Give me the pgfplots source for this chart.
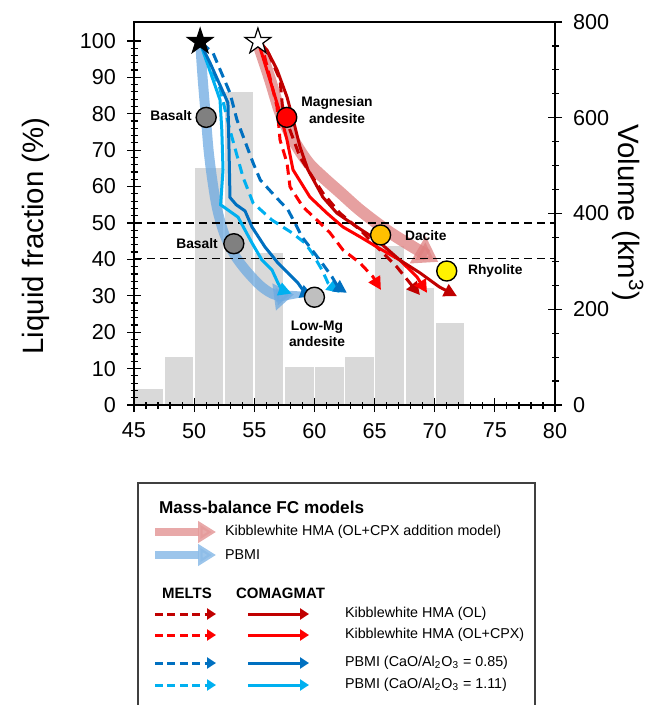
\documentclass[border=0pt]{standalone}
\usepackage{fontspec}
\setmainfont{Liberation Sans}
\usepackage{pgfplots}
\pgfplotsset{compat=1.18}
\usetikzlibrary{arrows.meta}
\definecolor{dred}{RGB}{192,0,0}
\definecolor{bred}{RGB}{255,0,0}
\definecolor{dblue}{RGB}{0,112,192}
\definecolor{lblue}{RGB}{0,176,240}
\definecolor{pinkc}{RGB}{222,128,128}
\definecolor{pblue}{RGB}{110,170,225}
\definecolor{bargray}{RGB}{217,217,217}
\definecolor{boxgray}{RGB}{64,64,64}
\pgfdeclareplotmark{fstar}{%
  \pgfpathmoveto{\pgfpointpolar{90}{\pgfplotmarksize}}%
  \pgfpathlineto{\pgfpointpolar{126}{0.382\pgfplotmarksize}}%
  \pgfpathlineto{\pgfpointpolar{162}{\pgfplotmarksize}}%
  \pgfpathlineto{\pgfpointpolar{198}{0.382\pgfplotmarksize}}%
  \pgfpathlineto{\pgfpointpolar{234}{\pgfplotmarksize}}%
  \pgfpathlineto{\pgfpointpolar{270}{0.382\pgfplotmarksize}}%
  \pgfpathlineto{\pgfpointpolar{306}{\pgfplotmarksize}}%
  \pgfpathlineto{\pgfpointpolar{342}{0.382\pgfplotmarksize}}%
  \pgfpathlineto{\pgfpointpolar{18}{\pgfplotmarksize}}%
  \pgfpathlineto{\pgfpointpolar{54}{0.382\pgfplotmarksize}}%
  \pgfpathclose
  \pgfusepathqfillstroke}
\newcommand{\tickfont}{\fontsize{10.8}{12}\selectfont}
\newcommand{\labfont}{\fontsize{14.7}{16}\selectfont}
\newcommand{\annfont}{\fontsize{6.9}{8.2}\selectfont\bfseries}
\newcommand{\legfont}{\fontsize{7.15}{8.5}\selectfont}
\begin{document}
\begin{tikzpicture}
\pgfplotsset{
  common/.style={
    at={(67pt,-202.5pt)}, anchor=south west, scale only axis,
    width=210.5pt, height=191.5pt, xmin=45, xmax=80,
    /pgf/number format/assume math mode=true,
    ticklabel style={font=\tickfont},
    tick style={black, line width=0.6pt},
    tick align=center, major tick length=7pt, minor tick length=3.5pt,
    axis line style={black, line width=0.75pt},
    clip=false,
  }
}
% Volume axis (histogram)
\begin{axis}[common, ymin=0, ymax=800, hide x axis, axis y line*=right,
  ytick={0,200,400,600,800}, minor y tick num=3,
  yticklabel style={xshift=2pt}]
\addplot[ybar interval, fill=bargray, draw=white, line width=0.9pt] coordinates {
 (45,36) (47.5,103) (50,497) (52.5,656) (55,319) (57.5,81) (60,81) (62.5,103) (65,334) (67.5,246) (70,173) (72.5,0)};
\end{axis}
% Liquid fraction axis
\begin{axis}[common, ymin=0, ymax=105.2,
  xtick={45,50,...,80}, minor x tick num=4,
  ytick={0,10,...,100}, minor y tick num=4,
  xtick pos=bottom, ytick pos=left,
  yticklabel style={xshift=-2pt}, xticklabel style={yshift=-2pt}]
% thick mass-balance arrows
\addplot[smooth, pinkc, opacity=0.75, line width=6pt, -{Triangle[length=12pt,width=15pt]}] coordinates {
 (55.3,99.5) (56.3,89.5) (57.2,80) (58.3,72.5) (59.5,66.5) (60.8,62.3) (62.2,58.2) (63.8,53.5) (66.0,48.0) (68.0,43.8) (70.3,39.3)};
\addplot[smooth, pblue, opacity=0.75, line width=5pt, -{Triangle[length=10pt,width=13pt]}] coordinates {
 (50.5,99.5) (50.7,90) (50.95,80) (51.2,70) (51.5,62) (51.9,54) (52.5,47) (53.3,41.5) (54.3,37) (55.6,32.5) (56.8,30.2) (58.3,30.4)};
% dashed reference lines
\addplot[black, line width=0.7pt, dash pattern=on 4pt off 2.5pt] coordinates {(45,50) (80,50)};
\addplot[black, line width=0.7pt, dash pattern=on 4pt off 2.5pt] coordinates {(45,40.3) (80,40.3)};
% MELTS (dashed)
\addplot[lblue, line width=1.5pt, dash pattern=on 5pt off 3pt, -{Triangle[length=6.5pt,width=6.5pt]}] coordinates {
 (50.5,99.5) (52.1,87.5) (52.98,75.5) (54.06,62.6) (54.9,55.5) (56.47,50.8) (58.13,47.3) (59.21,44.5) (59.8,41.8) (60.63,37.1) (61.13,33.5) (62.1,30.8)};
\addplot[dblue, line width=1.5pt, dash pattern=on 5pt off 3pt, -{Triangle[length=6.5pt,width=6.5pt]}] coordinates {
 (50.6,99.5) (51.57,96.7) (52.98,85.7) (53.56,78.3) (54.9,66.5) (55.5,61.8) (56.8,57.1) (57.8,53.6) (58.38,50.0) (58.96,46.2) (59.8,42.6) (60.63,39.0) (61.46,35.2) (61.96,32.4) (62.7,30.8)};
\addplot[bred, line width=1.5pt, dash pattern=on 5pt off 3pt, -{Triangle[length=6.5pt,width=6.5pt]}] coordinates {
 (55.3,100) (55.72,97.5) (56.3,90) (56.89,81.9) (57.14,72.8) (57.72,66.5) (57.97,59.9) (59.05,54.4) (60.21,50.8) (61.29,47.3) (62.37,42.6) (63.79,39.0) (64.87,35.2) (65.53,31.6)};
\addplot[dred, line width=1.5pt, dash pattern=on 5pt off 3pt, -{Triangle[length=6.5pt,width=6.5pt]}] coordinates {
 (55.3,100) (56.06,97.5) (57.14,89.3) (57.39,80.2) (57.97,75.5) (58.8,68.1) (59.63,63.7) (60.71,58.2) (62.12,52.7) (63.79,48.1) (65.45,42.6) (66.86,37.9) (67.94,33.5) (68.77,30.2)};
% COMAGMAT (solid)
\addplot[lblue, line width=1.5pt, -{Triangle[length=6.5pt,width=6.5pt]}] coordinates {
 (50.5,99.5) (52.15,83.8) (52.3,75.5) (52.4,64.6) (52.2,55) (53.65,51.6) (54.81,44.5) (55.64,39.8) (56.47,37.1) (56.97,33.5) (57.3,31.6) (58.1,30.6)};
\addplot[dblue, line width=1.5pt, -{Triangle[length=6.5pt,width=6.5pt]}] coordinates {
 (50.5,99.5) (51.32,94) (52.81,83) (52.9,70) (52.98,57) (53.5,55) (54.23,53.3) (54.81,48.9) (55.89,43.4) (56.97,39.0) (57.80,36.3) (58.63,33.5) (59.21,30.8) (59.9,29.9)};
\addplot[bred, line width=1.5pt, -{Triangle[length=6.5pt,width=6.5pt]}] coordinates {
 (55.3,100) (56.3,89.3) (57.14,80.2) (57.72,72.8) (58.22,64.6) (59.63,57.1) (61.04,52.7) (62.37,48.9) (63.79,46.2) (65.2,43.4) (67.1,39.8) (68.52,35.2) (69.36,30.8)};
\addplot[dred, line width=1.5pt, -{Triangle[length=6.5pt,width=6.5pt]}] coordinates {
 (55.3,100) (56.06,97.5) (56.9,92) (57.72,84.6) (58.38,76.4) (58.8,70.9) (59.46,64.6) (60.7,57.1) (61.87,52.7) (63.54,48.9) (65.2,45.3) (67.1,39.8) (68.77,36.3) (70.4,32.4) (71.85,29.9)};
% composition circles
\addplot[only marks, mark=*, mark size=5pt, mark options={fill=gray, draw=black, line width=0.7pt}] coordinates {(51.0,79) (53.3,44.3)};
\addplot[only marks, mark=*, mark size=5pt, mark options={fill=bred, draw=black, line width=0.7pt}] coordinates {(57.7,79)};
\addplot[only marks, mark=*, mark size=5pt, mark options={fill=gray!50, draw=black, line width=0.7pt}] coordinates {(60.0,29.6)};
\addplot[only marks, mark=*, mark size=5pt, mark options={fill={rgb,255:red,255;green,192;blue,0}, draw=black, line width=0.7pt}] coordinates {(65.5,46.7)};
\addplot[only marks, mark=*, mark size=5pt, mark options={fill=yellow, draw=black, line width=0.7pt}] coordinates {(71.0,36.8)};
% stars
\addplot[only marks, mark=fstar, mark size=6.8pt, mark options={fill=black, draw=black, line width=0.5pt}] coordinates {(50.5,99.8)};
\addplot[only marks, mark=fstar, mark size=6.8pt, mark options={fill=white, draw=black, line width=0.6pt}] coordinates {(55.3,99.8)};
\end{axis}
\begin{scope}[x=0.5pt, y=-0.5pt]
% axis titles
\node[rotate=90, font=\labfont] at (36,236) {Liquid fraction (\%)};
\node[rotate=-90, font=\labfont] at (628,213) {Volume (km\textsuperscript{3})};
% annotations
\node[font=\annfont] at (171,116) {Basalt};
\node[font=\annfont, align=center] at (337,110) {Magnesian\\andesite};
\node[font=\annfont] at (197,244) {Basalt};
\node[font=\annfont, align=center] at (317,334) {Low-Mg\\andesite};
\node[font=\annfont, anchor=west] at (398,236) {Dacite};
\node[font=\annfont, anchor=west] at (461,271) {Rhyolite};
% legend
\draw[boxgray, line width=0.9pt] (138,760) -- (138,483) -- (535,483) -- (535,760);
\node[anchor=west, font=\fontsize{8.58}{10}\selectfont\bfseries] at (152,507) {Mass-balance FC models};
\draw[pinkc!80!white, opacity=0.85, line width=4pt, -{Triangle[length=9pt,width=10.5pt]}] (155,532) -- (216,532);
\node[anchor=west, font=\legfont] at (218,532) {Kibblewhite HMA (OL+CPX addition model)};
\draw[pblue!80!white, opacity=0.85, line width=4pt, -{Triangle[length=9pt,width=10.5pt]}] (155,555) -- (216,555);
\node[anchor=west, font=\legfont] at (218,555) {PBMI};
\node[anchor=west, font=\fontsize{7.5}{9}\selectfont\bfseries] at (155,593) {MELTS};
\node[anchor=west, font=\fontsize{7.5}{9}\selectfont\bfseries] at (229,593) {COMAGMAT};
\foreach \yy/\cc/\tt in {614/dred/{Kibblewhite HMA (OL)}, 635/bred/{Kibblewhite HMA (OL+CPX)}, 663/dblue/{PBMI (CaO/Al\textsubscript{2}O\textsubscript{3} = 0.85)}, 685/lblue/{PBMI (CaO/Al\textsubscript{2}O\textsubscript{3} = 1.11)}}{
  \draw[\cc, line width=1.5pt, dash pattern=on 4pt off 2.2pt, -{Triangle[length=4.5pt,width=5.5pt]}] (155,\yy) -- (216,\yy);
  \draw[\cc, line width=1.5pt, -{Triangle[length=4.5pt,width=5.5pt]}] (248,\yy) -- (309,\yy);
  \node[anchor=west, font=\legfont] at (338,\yy) {\tt};
}
\end{scope}
\pgfresetboundingbox
\path[use as bounding box] (0,0) rectangle (329.5pt,-352.5pt);
\end{tikzpicture}
\end{document}
